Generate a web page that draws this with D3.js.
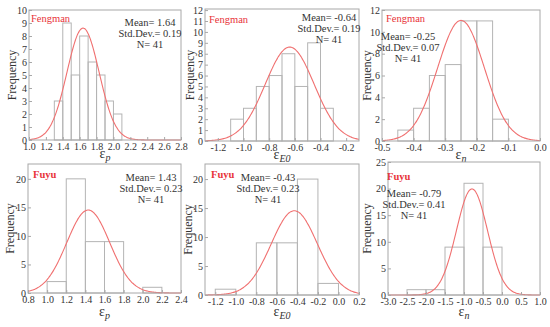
<!DOCTYPE html>
<html>
<head>
<meta charset="utf-8">
<script src="https://cdn.jsdelivr.net/npm/d3@7"></script>
<style>
  body { margin: 0; background: #fff; }
  svg { display: block; font-family: "Liberation Serif", "Times New Roman", serif; }
</style>
</head>
<body>
<div id="chart"></div>
<script>
let width = 550;
let height = 327;

// data
const regions = ["Fengman", "Fengman", "Fengman", "Fuyu", "Fuyu", "Fuyu"];
const varSubs = ["p", "E0", "n", "p", "E0", "n"];
const binStarts = [
  [1.3, 1.4, 1.5, 1.6, 1.7, 1.8, 1.9, 2.0],
  [-1.1, -1.0, -0.9, -0.8, -0.7, -0.6, -0.5, -0.4],
  [-0.45, -0.4, -0.35, -0.3, -0.25, -0.2, -0.15],
  [1.0, 1.2, 1.4, 1.6, 2.0],
  [-1.2, -0.8, -0.6, -0.4, -0.2],
  [-2.5, -2.0, -1.5, -1.0, -0.5]
];
const binWidths = [0.1, 0.1, 0.05, 0.2, 0.2, 0.5];
const counts = [
  [3, 9, 5, 8, 6, 5, 3, 2],
  [2, 3, 5, 6, 8, 5, 9, 3],
  [1, 3, 6, 7, 11, 11, 2],
  [2, 20, 9, 9, 1],
  [1, 9, 9, 20, 2],
  [1, 1, 9, 21, 9]
];
const means = [1.64, -0.64, -0.25, 1.43, -0.43, -0.79];
const stdDevs = [0.19, 0.19, 0.07, 0.23, 0.23, 0.41];
const fitStdDevs = [0.19, 0.19, 0.074, 0.225, 0.225, 0.41];
const nObs = [41, 41, 41, 41, 41, 41];

const xDomains = [[1.0, 2.8], [-1.3, -0.1], [-0.5, 0.0], [0.8, 2.4], [-1.3, 0.2], [-3.0, 1.0]];
const yDomains = [[0, 10], [0, 12.1], [0, 12], [0, 22.6], [0, 22.6], [0, 25]];
const xTicks = [
  [1.0, 1.2, 1.4, 1.6, 1.8, 2.0, 2.2, 2.4, 2.6, 2.8],
  [-1.2, -1.0, -0.8, -0.6, -0.4, -0.2],
  [-0.5, -0.4, -0.3, -0.2, -0.1, 0.0],
  [0.8, 1.0, 1.2, 1.4, 1.6, 1.8, 2.0, 2.2, 2.4],
  [-1.2, -1.0, -0.8, -0.6, -0.4, -0.2, 0.0, 0.2],
  [-3.0, -2.5, -2.0, -1.5, -1.0, -0.5, 0.0, 0.5, 1.0]
];
const yTicks = [
  [0, 1, 2, 3, 4, 5, 6, 7, 8, 9, 10],
  [0, 1, 2, 3, 4, 5, 6, 7, 8, 9, 10, 11, 12],
  [0, 2, 4, 6, 8, 10, 12],
  [0, 5, 10, 15, 20],
  [0, 5, 10, 15, 20],
  [0, 5, 10, 15, 20, 25]
];

// panel boxes (layout)
const boxes = [
  {x0: 29, x1: 181, y0: 10, y1: 140, statX: 150, statY: 22, tagX: 31, tagY: 18, ylabX: 12, labOff: 18},
  {x0: 205, x1: 359, y0: 9, y1: 141, statX: 329, statY: 17, tagX: 209, tagY: 19, ylabX: 190, labOff: 18},
  {x0: 382, x1: 540, y0: 10, y1: 141, statX: 408, statY: 36, tagX: 386, tagY: 18, ylabX: 367, labOff: 18},
  {x0: 28, x1: 181, y0: 164, y1: 293, statX: 151, statY: 177, tagX: 33, tagY: 174, ylabX: 10, labOff: 23},
  {x0: 205, x1: 359, y0: 164, y1: 295, statX: 268, statY: 177, tagX: 211, tagY: 174, ylabX: 188, labOff: 21},
  {x0: 388, x1: 540, y0: 162, y1: 295, statX: 414, statY: 193, tagX: 387, tagY: 176, ylabX: 367, labOff: 21}
];

let svg = d3.select("#chart").append("svg")
    .attr("width", width)
    .attr("height", height);

const frameColor = "#a8a8a8";
const barColor = "#b4b4b4";
const curveColor = "#f07070";
const textColor = "#333";
const serif = "'Liberation Serif', 'Times New Roman', serif";

// plain hyphen as minus sign, like the original
let fmt = function(v) { return d3.format(".1f")(v).replace("−", "-"); };
let yfmt = d3.format("d");

boxes.forEach(function(b, i) {
  let g = svg.append("g");

  let x = d3.scaleLinear().domain(xDomains[i]).range([b.x0, b.x1]);
  let y = d3.scaleLinear().domain(yDomains[i]).range([b.y1, b.y0]);

  // bars
  let bins = binStarts[i].map(function(s, k) { return {s: s, c: counts[i][k]}; });
  g.selectAll(".bar")
    .data(bins)
    .enter().append("rect")
    .attr("x", d => x(d.s))
    .attr("y", d => y(d.c))
    .attr("width", d => x(d.s + binWidths[i]) - x(d.s))
    .attr("height", d => y(0) - y(d.c))
    .attr("fill", "none")
    .attr("stroke", barColor)
    .attr("stroke-width", 1);

  // normal fit curve
  let sd = fitStdDevs[i], mu = means[i];
  let scaleF = nObs[i] * binWidths[i] / (sd * Math.sqrt(2 * Math.PI));
  let xs = d3.range(0, 201).map(k => xDomains[i][0] + (xDomains[i][1] - xDomains[i][0]) * k / 200);
  let line = d3.line()
    .x(d => x(d))
    .y(d => y(scaleF * Math.exp(-0.5 * Math.pow((d - mu) / sd, 2))))
    .curve(d3.curveBasis);
  g.append("path")
    .datum(xs)
    .attr("d", line)
    .attr("fill", "none")
    .attr("stroke", curveColor)
    .attr("stroke-width", 1.1);

  // frame
  g.append("rect")
    .attr("x", b.x0).attr("y", b.y0)
    .attr("width", b.x1 - b.x0).attr("height", b.y1 - b.y0)
    .attr("fill", "none")
    .attr("stroke", frameColor)
    .attr("stroke-width", 1);

  // axes
  let xAxis = d3.axisBottom(x).tickValues(xTicks[i]).tickFormat(fmt).tickSize(-3).tickPadding(3);
  let yAxis = d3.axisLeft(y).tickValues(yTicks[i]).tickFormat(yfmt).tickSize(-3).tickPadding(2);

  let xg = g.append("g").attr("transform", "translate(0," + b.y1 + ")").call(xAxis);
  let yg = g.append("g").attr("transform", "translate(" + b.x0 + ",0)").call(yAxis);
  [xg, yg].forEach(function(ax) {
    ax.attr("font-family", serif).attr("font-size", 10);
    ax.select(".domain").remove();
    ax.selectAll(".tick line").attr("stroke", frameColor);
    ax.selectAll(".tick text").attr("fill", textColor);
  });

  // axis titles
  g.append("text")
    .attr("transform", "translate(" + b.ylabX + "," + ((b.y0 + b.y1) / 2) + ") rotate(-90)")
    .attr("text-anchor", "middle")
    .attr("dy", "0.35em")
    .attr("fill", textColor)
    .style("font-size", "12px")
    .text("Frequency");

  let xl = g.append("text")
    .attr("x", (b.x0 + b.x1) / 2)
    .attr("y", b.y1 + b.labOff)
    .attr("text-anchor", "middle")
    .attr("fill", textColor)
    .style("font-size", "14px");
  xl.append("tspan").text("ε");
  xl.append("tspan")
    .attr("dy", 3)
    .style("font-style", "italic")
    .style("font-size", "10px")
    .text(varSubs[i]);

  // region tag
  g.append("text")
    .attr("x", b.tagX).attr("y", b.tagY)
    .attr("dy", "0.35em")
    .attr("fill", "#e8333a")
    .style("font-size", "10.5px")
    .style("font-weight", regions[i] === "Fuyu" ? "bold" : "normal")
    .text(regions[i]);

  // stats
  let lines = ["Mean= " + fmt2(means[i]), "Std.Dev.= " + fmt2(stdDevs[i]), "N= " + nObs[i]];
  g.selectAll(".stat")
    .data(lines)
    .enter().append("text")
    .attr("x", b.statX)
    .attr("y", (d, k) => b.statY + k * 11)
    .attr("dy", "0.35em")
    .attr("text-anchor", "middle")
    .attr("fill", textColor)
    .style("font-size", "10.5px")
    .text(d => d);
});

function fmt2(v) { return v.toFixed(2); }
</script>
</body>
</html>
